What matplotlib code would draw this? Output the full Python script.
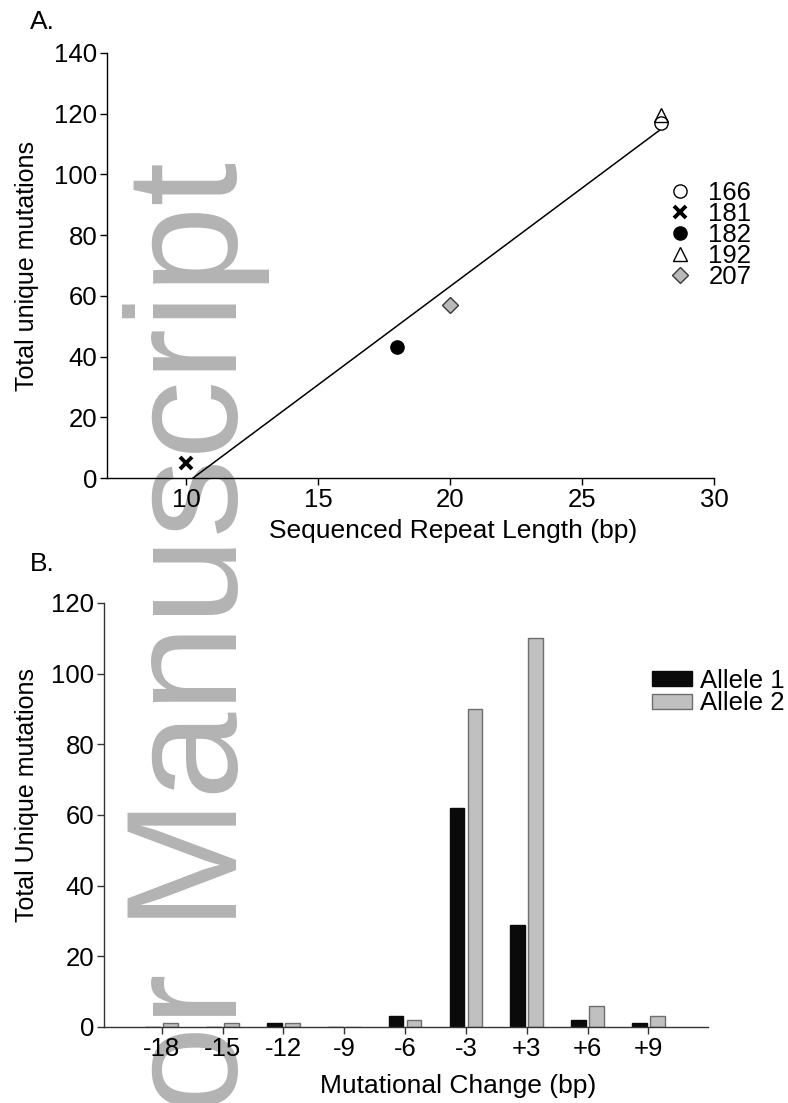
import matplotlib
matplotlib.use('Agg')
import matplotlib.pyplot as plt
import numpy as np

plt.rcParams['font.family'] = ['Liberation Sans', 'DejaVu Sans']

# ---------------- data ----------------
genotypes = ['166', '181', '182', '192', '207']
repeat_length = [28, 10, 18, 28, 20]
unique_mutations = [117, 5, 43, 119.5, 57]

changes = ['-18', '-15', '-12', '-9', '-6', '-3', '+3', '+6', '+9']
allele1 = [0, 0, 1, 0, 3, 62, 29, 2, 1]
allele2 = [1, 1, 1, 0, 2, 90, 110, 6, 3]

# ---------------- figure ----------------
W, H = 788, 1103
fig = plt.figure(figsize=(W / 100, H / 100), dpi=100)


def rect(l, t, r, b):
    return [l / W, 1 - b / H, (r - l) / W, (b - t) / H]


def fx(x):
    return x / W


def fy(y):
    return 1 - y / H


# watermark (anchored at the end of the string)
fig.text(fx(237), fy(162), 'Author Manuscript', rotation=90, rotation_mode='anchor',
         ha='right', va='baseline', fontsize=113, color='#b3b3b3', zorder=-1)

TICK_FS = 18.5
LAB_FS = 19

# ---------------- Panel A ----------------
axA = fig.add_axes(rect(107, 53, 714, 478))
axA.set_facecolor('none')

slope, intercept = np.polyfit(repeat_length, unique_mutations, 1)
x0 = -intercept / slope
x1 = max(repeat_length)
axA.plot([x0, x1], [slope * x0 + intercept, slope * x1 + intercept], color='black', lw=1.1, zorder=2)

styles = [
    dict(marker='o', mfc='white', mec='black', ms=9.5, mew=1.0),
    dict(marker='x', mfc='black', mec='black', ms=8, mew=2.8),
    dict(marker='o', mfc='black', mec='black', ms=9.5, mew=1.0),
    dict(marker='^', mfc='none', mec='black', ms=10, mew=1.0),
    dict(marker='D', mfc='#b9b9b9', mec='#3a3a3a', ms=8, mew=1.0),
]
for g, xv, yv, st in zip(genotypes, repeat_length, unique_mutations, styles):
    axA.plot([xv], [yv], linestyle='none', label=g, zorder=3, **st)

axA.set_xlim(7, 30)
axA.set_ylim(0, 140)
axA.set_xticks([10, 15, 20, 25, 30])
axA.set_yticks(range(0, 141, 20))
for s in ['top', 'right']:
    axA.spines[s].set_visible(False)
for s in ['left', 'bottom']:
    axA.spines[s].set_linewidth(1.0)
axA.tick_params(direction='out', length=5, width=1, labelsize=TICK_FS, pad=2)

axA.legend(loc='upper left', bbox_to_anchor=(0.923, 0.70), frameon=False, numpoints=1,
           handlelength=1.0, handletextpad=0.6, labelspacing=-0.11, fontsize=TICK_FS,
           borderpad=0, borderaxespad=0)

fig.text(fx(30), fy(29), 'A.', fontsize=LAB_FS, ha='left', va='baseline')
fig.text(fx(453), fy(538), 'Sequenced Repeat Length (bp)', fontsize=LAB_FS, ha='center', va='baseline')
fig.text(fx(34), fy(266), 'Total unique mutations', fontsize=18, rotation=90,
         rotation_mode='anchor', ha='center', va='baseline')

# ---------------- Panel B ----------------
axB = fig.add_axes(rect(104, 603, 708, 1027))
axB.set_facecolor('none')
pos = np.arange(len(changes))
bw = 0.24
off = 0.148
axB.bar(pos - off, allele1, width=bw, color='#0a0a0a', edgecolor='#0a0a0a', lw=1, label='Allele 1', zorder=2)
axB.bar(pos + off, allele2, width=bw, color='#c0c0c0', edgecolor='#6e6e6e', lw=1, label='Allele 2', zorder=2)
axB.set_xlim(-0.95, 8.98)
axB.set_ylim(0, 120)
axB.set_xticks(pos)
axB.set_xticklabels(changes)
axB.set_yticks(range(0, 121, 20))
for s in ['top', 'right']:
    axB.spines[s].set_visible(False)
for s in ['left', 'bottom']:
    axB.spines[s].set_linewidth(1.0)
    axB.spines[s].set_color('#333333')
axB.tick_params(direction='out', length=5, width=1, labelsize=TICK_FS, pad=2, color='#333333')
axB.legend(loc='upper left', bbox_to_anchor=(0.907, 0.845), frameon=False,
           handlelength=1.56, handleheight=0.5, handletextpad=0.3, labelspacing=-0.05,
           fontsize=18.5, borderpad=0, borderaxespad=0)

fig.text(fx(30), fy(571), 'B.', fontsize=LAB_FS, ha='left', va='baseline')
fig.text(fx(458), fy(1093), 'Mutational Change (bp)', fontsize=LAB_FS, ha='center', va='baseline')
fig.text(fx(34), fy(795), 'Total Unique mutations', fontsize=18, rotation=90,
         rotation_mode='anchor', ha='center', va='baseline')

fig.savefig('out.png', dpi=100)
